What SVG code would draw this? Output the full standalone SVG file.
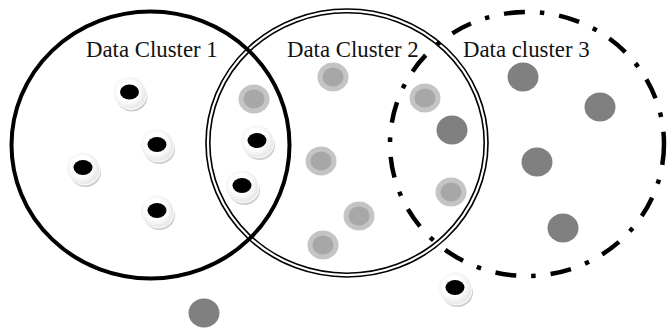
<svg xmlns="http://www.w3.org/2000/svg" width="667" height="329" viewBox="0 0 667 329">
  <style>
    .lbl { font-family: "Liberation Serif", "Times New Roman", serif; font-size: 22.8px; fill: #111; }
    .c1 { fill: none; stroke: #000; stroke-width: 4; }
    .c2 { fill: none; stroke: #000; stroke-width: 1.6; }
    .c3 { fill: none; stroke: #000; stroke-width: 4.5; stroke-dasharray: 21 15 4.5 15; }
    .ring-o { fill: #c4c4c4; }
    .ring-i { fill: #a7a7a7; }
    .dark { fill: #808080; }
  </style>
  <defs>
    <radialGradient id="discFill" cx="0.45" cy="0.45" r="0.6">
      <stop offset="0.55" stop-color="#ffffff"/>
      <stop offset="1" stop-color="#e4e4e4"/>
    </radialGradient>
    <!-- white coin with a stacked shadow and black core -->
    <g id="target">
      <ellipse cx="2.5" cy="4.5" rx="15.5" ry="14.5" fill="#cdcdcd"/>
      <ellipse cx="1.5" cy="2.5" rx="15.5" ry="14.5" fill="#ededed" stroke="#ffffff" stroke-width="0.8"/>
      <ellipse cx="0" cy="0" rx="16" ry="15.5" fill="url(#discFill)"/>
      <ellipse cx="0" cy="-0.5" rx="9.5" ry="7.6" fill="#000"/>
    </g>
    <!-- light ring with mid-grey centre -->
    <g id="ring">
      <ellipse class="ring-o" cx="0" cy="0" rx="15.5" ry="14.5"/>
      <ellipse class="ring-i" cx="0" cy="0" rx="10.5" ry="9.5"/>
    </g>
    <ellipse id="solid" class="dark" cx="0" cy="0" rx="15.5" ry="14.5"/>
  </defs>

  <rect width="667" height="329" fill="#fff"/>

  <!-- cluster outlines -->
  <g id="connectors">
    <ellipse id="cluster1" class="c1" cx="150.5" cy="145" rx="139" ry="133.5"/>
    <g id="cluster2">
      <ellipse class="c2" cx="347" cy="143" rx="141" ry="134"/>
      <ellipse class="c2" cx="347" cy="143" rx="137.2" ry="130.2"/>
    </g>
    <ellipse id="cluster3" class="c3" cx="527" cy="144" rx="137" ry="132"/>
  </g>

  <!-- labels -->
  <g id="labels">
    <text class="lbl" x="86" y="57">Data Cluster 1</text>
    <text class="lbl" x="287" y="57">Data Cluster 2</text>
    <text class="lbl" x="463" y="57">Data cluster 3</text>
  </g>

  <!-- black-core points -->
  <g id="p1"><use href="#target" x="129.5" y="92.5"/></g>
  <g id="p2"><use href="#target" x="157" y="145"/></g>
  <g id="p3"><use href="#target" x="83" y="168"/></g>
  <g id="p4"><use href="#target" x="157" y="211"/></g>
  <g id="p5"><use href="#target" x="257" y="141"/></g>
  <g id="p6"><use href="#target" x="242" y="186"/></g>
  <g id="p7"><use href="#target" x="455" y="288"/></g>

  <!-- ringed points -->
  <g id="r1"><use href="#ring" x="333" y="77"/></g>
  <g id="r2"><use href="#ring" x="254" y="99"/></g>
  <g id="r3"><use href="#ring" x="321" y="161"/></g>
  <g id="r4"><use href="#ring" x="359" y="216"/></g>
  <g id="r5"><use href="#ring" x="323" y="245"/></g>
  <g id="r6"><use href="#ring" x="425" y="98"/></g>
  <g id="r7"><use href="#ring" x="451" y="192"/></g>

  <!-- solid grey points -->
  <g id="s1"><use href="#solid" x="523" y="77"/></g>
  <g id="s2"><use href="#solid" x="600" y="107"/></g>
  <g id="s3"><use href="#solid" x="452" y="130"/></g>
  <g id="s4"><use href="#solid" x="537" y="162"/></g>
  <g id="s5"><use href="#solid" x="563" y="228"/></g>
  <g id="s6"><use href="#solid" x="204" y="313"/></g>
</svg>
